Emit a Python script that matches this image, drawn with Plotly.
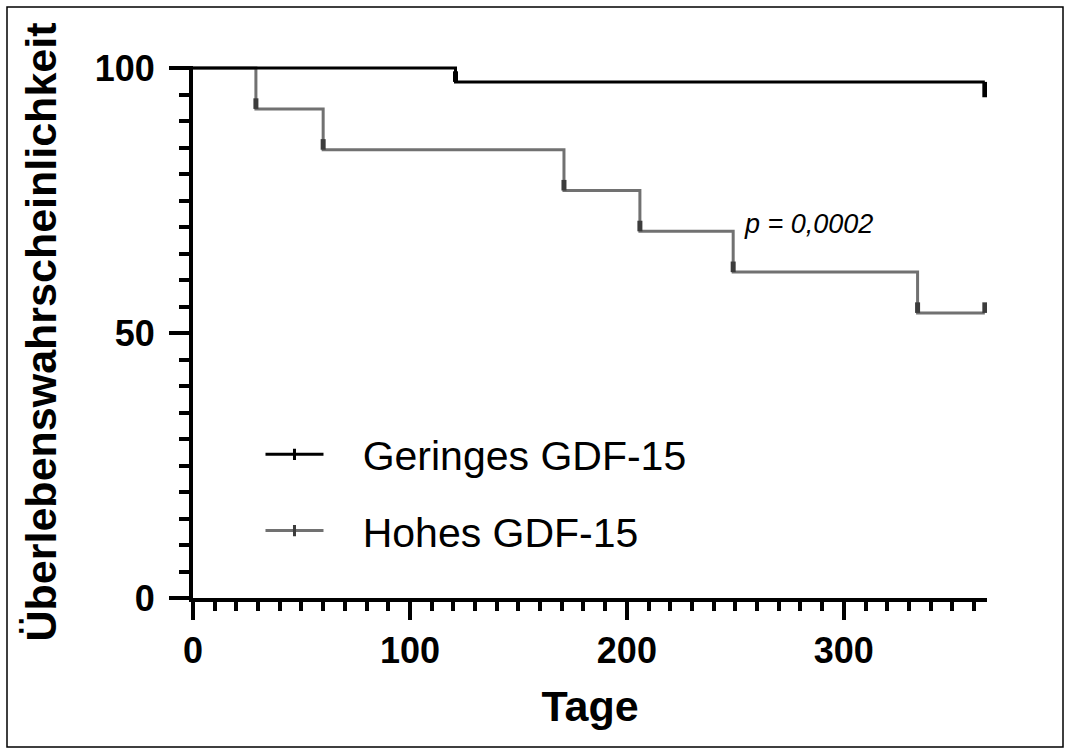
import plotly.graph_objects as go

# Kaplan-Meier survival steps (days, survival probability in %)
low_t = [0, 121, 365]
low_s = [100, 97.4, 97.4]
high_t = [0, 29, 60, 171, 206, 249, 334, 365]
high_s = [100, 92.3, 84.6, 76.9, 69.2, 61.5, 53.8, 53.8]

# censor marks: time, level, direction of the tick (+1 up, -1 down)
low_cens_t = [121, 365]
low_cens_s = [97.4, 97.4]
low_cens_dir = [1, -1]
high_cens_t = [29, 60, 171, 206, 249, 334, 365]
high_cens_s = [92.3, 84.6, 76.9, 69.2, 61.5, 53.8, 53.8]
high_cens_dir = [1, 1, 1, 1, 1, 1, 1]

series_names = ["Geringes GDF-15", "Hohes GDF-15"]
x_ticks = [0, 100, 200, 300]
y_ticks = [0, 50, 100]
p_label = "p = 0,0002"
p_pos = (253, 70.6)

FONT = "Liberation Sans, Arial, Helvetica, sans-serif"
LOW_COLOR = "#000000"
HIGH_COLOR = "#717171"
HIGH_TICK = "#3c3c3c"
TICK_UP = 2.0
TICK_DOWN = 2.9
GAP = "\u00a0" * 3  # space between legend symbol and label


def censor_trace(t, s, d, color):
    up = [TICK_UP if k > 0 else 0 for k in d]
    down = [TICK_DOWN if k < 0 else 0 for k in d]
    return go.Scatter(
        x=t, y=s, mode="markers",
        marker=dict(size=1, color="rgba(0,0,0,0)"),
        error_y=dict(type="data", symmetric=False, array=up, arrayminus=down,
                     width=0, thickness=5, color=color),
        showlegend=False, hoverinfo="skip",
    )


fig = go.Figure()

# survival curves
fig.add_trace(go.Scatter(x=high_t, y=high_s, mode="lines", line_shape="hv",
                         line=dict(color=HIGH_COLOR, width=3), showlegend=False))
fig.add_trace(go.Scatter(x=low_t, y=low_s, mode="lines", line_shape="hv",
                         line=dict(color=LOW_COLOR, width=3), showlegend=False))
fig.add_trace(censor_trace(high_cens_t, high_cens_s, high_cens_dir, HIGH_TICK))
fig.add_trace(censor_trace(low_cens_t, low_cens_s, low_cens_dir, LOW_COLOR))

# legend entries
for name, col, tick in [(series_names[0], LOW_COLOR, LOW_COLOR),
                        (series_names[1], HIGH_COLOR, HIGH_TICK)]:
    fig.add_trace(go.Scatter(
        x=[None], y=[None], mode="lines+markers", name=GAP + name,
        line=dict(color=col, width=3),
        marker=dict(symbol="line-ns", size=8, line=dict(width=3, color=tick)),
        legendgroup=name,
    ))

fig.add_annotation(x=p_pos[0], y=p_pos[1], xref="x", yref="y",
                   text="<i>" + p_label + "</i>", showarrow=False,
                   xanchor="left", yanchor="middle",
                   font=dict(family=FONT, size=27, color="#000000"))

ml, mr, mt, mb = 193, 83, 66, 156
W, H = 1070, 754
pw, ph = W - ml - mr, H - mt - mb

# frame around the whole figure
fig.add_shape(type="rect", xref="paper", yref="paper",
              x0=(7 - ml) / pw, x1=(1063 - ml) / pw,
              y0=-(747 - mt - ph) / ph, y1=(mt - 7) / ph + 1,
              line=dict(color="#000000", width=1.5), fillcolor="rgba(0,0,0,0)",
              layer="below")

fig.update_layout(
    width=W, height=H,
    margin=dict(l=ml, r=mr, t=mt, b=mb, autoexpand=False),
    paper_bgcolor="#ffffff", plot_bgcolor="#ffffff",
    font=dict(family=FONT, color="#000000"),
    legend=dict(x=0.085, y=0.198, xanchor="left", yanchor="middle",
                font=dict(family=FONT, size=41, color="#000000"),
                bgcolor="rgba(0,0,0,0)", itemwidth=58, tracegroupgap=20),
)

fig.update_xaxes(
    range=[0, 366], tickvals=x_ticks, showgrid=False, zeroline=False,
    showline=True, linecolor="#000000", linewidth=4,
    ticks="outside", ticklen=18, tickwidth=4, tickcolor="#000000",
    ticklabelstandoff=0,
    tickfont=dict(family=FONT, size=36, weight="bold"),
    minor=dict(dtick=10, tick0=0, ticks="outside", ticklen=9, tickwidth=4,
               tickcolor="#000000", showgrid=False),
    title=dict(text="Tage", standoff=22,
               font=dict(family=FONT, size=43, weight="bold")),
)
fig.update_yaxes(
    range=[0, 100.4], tickvals=y_ticks, showgrid=False, zeroline=False,
    showline=True, linecolor="#000000", linewidth=4,
    ticks="outside", ticklen=20, tickwidth=4, tickcolor="#000000",
    ticklabelstandoff=7,
    tickfont=dict(family=FONT, size=36, weight="bold"),
    minor=dict(dtick=5, tick0=0, ticks="outside", ticklen=10, tickwidth=4,
               tickcolor="#000000", showgrid=False),
    title=dict(text="Überlebenswahrscheinlichkeit", standoff=26,
               font=dict(family=FONT, size=43, weight="bold")),
)

fig.write_html("out.html")
